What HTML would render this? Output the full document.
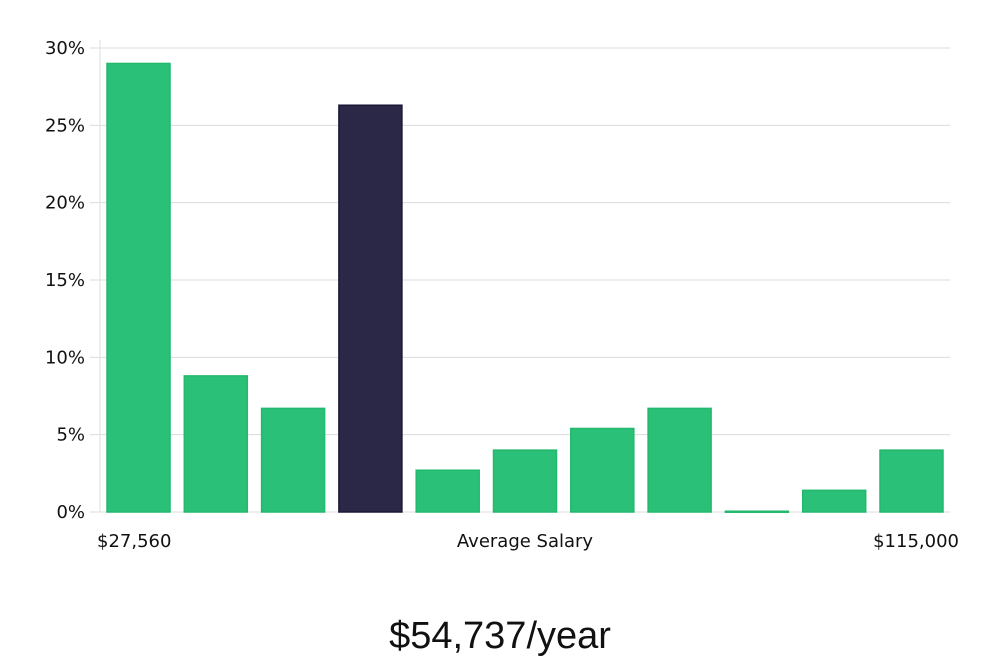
<!DOCTYPE html>
<html><head><meta charset="utf-8"><style>
body{margin:0;background:#fff;width:1000px;height:660px;overflow:hidden;font-family:"DejaVu Sans","Liberation Sans",sans-serif}
</style></head><body>
<svg id="chart" width="1000" height="660" xmlns="http://www.w3.org/2000/svg"></svg>
<script>
const categories=["b1","b2","b3","b4","b5","b6","b7","b8","b9","b10","b11"];
const values=[29.0,8.8,6.7,26.3,2.7,4.0,5.4,6.7,0.05,1.4,4.0];
const highlightIndex=3;
const yTicks=[0,5,10,15,20,25,30];
const yTickLabels=["0%","5%","10%","15%","20%","25%","30%"];
const xLabels=["$27,560","Average Salary","$115,000"];
const NS="http://www.w3.org/2000/svg";
const svg=document.getElementById('chart');
const x0=100,x1=950,yBase=512,yTop=48;
const y=v=>yBase-(v/30)*(yBase-yTop);
const step=(x1-x0)/categories.length;
const xb=i=>x0+7+i*77.3;
function el(t,a,txt){const e=document.createElementNS(NS,t);for(const k in a)e.setAttribute(k,a[k]);if(txt!=null)e.textContent=txt;svg.appendChild(e);return e;}
yTicks.forEach((t,i)=>{
 const g=el('line',{x1:90,x2:x1,y1:y(t),y2:y(t),stroke:'#dcdcdc','stroke-width':1});
 
 
 const l=el('text',{x:85,y:y(t)+6,'text-anchor':'end','font-size':18,fill:'#111'},yTickLabels[i]);
 
 
});
const ax=el('line',{x1:x0,x2:x0,y1:40,y2:yBase,stroke:'#dcdcdc'});


values.forEach((v,i)=>{
 const hi=i===highlightIndex;
 const r=el('rect',{x:xb(i),y:y(v),width:63,height:Math.max(yBase-y(v),1),fill:hi?'#2a2747':'#2ac077',stroke:hi?'#1a1838':'#22b86e','stroke-width':1.5});
 
 
});
const xl=[[97,'start'],[525,'middle'],[959,'end']];
xLabels.forEach((t,i)=>{
 const e=el('text',{x:xl[i][0],y:547,'text-anchor':xl[i][1],'font-size':18,fill:'#111'},t);
 
 
});
const s=el('text',{x:500,y:648,'text-anchor':'middle','font-size':38,fill:'#111','font-family':'Liberation Sans, sans-serif'},'$54,737/year');


</script>
</body></html>
